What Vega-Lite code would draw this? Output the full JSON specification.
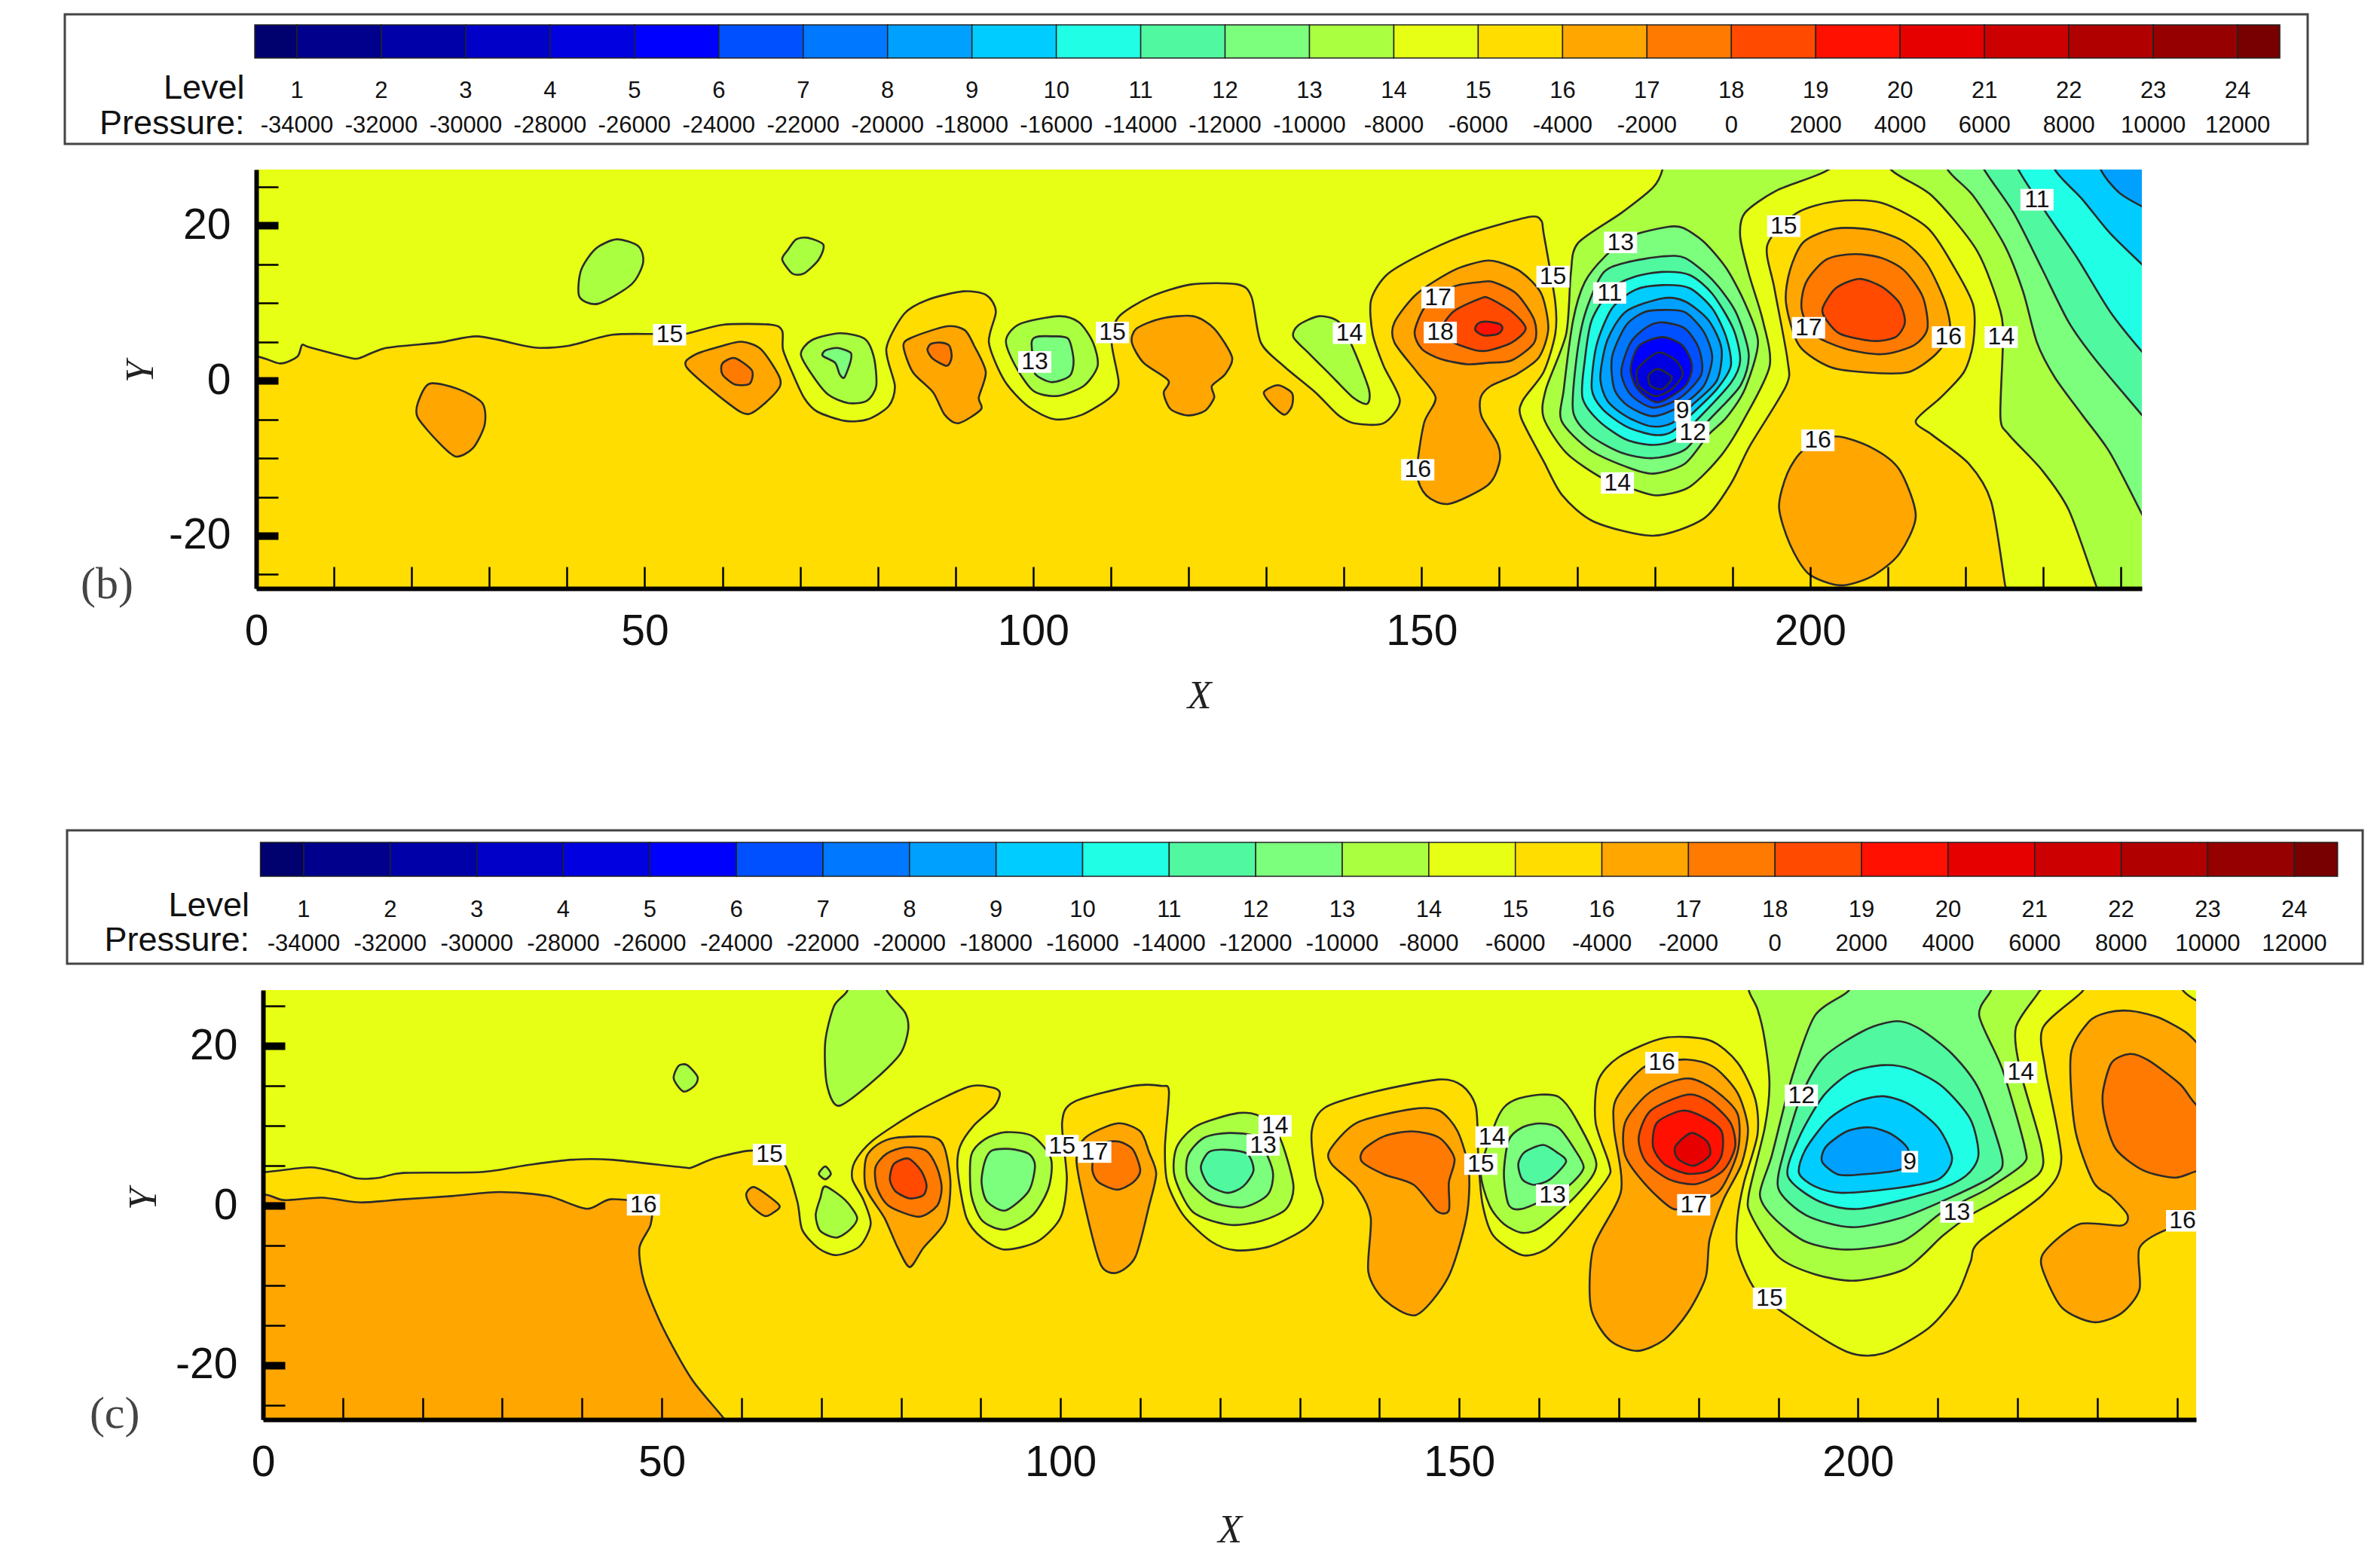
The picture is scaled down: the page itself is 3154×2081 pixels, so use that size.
{"$schema":"https://vega.github.io/schema/vega-lite/v6.json","padding":0,"spacing":0,"bounds":"flush","align":"none","background":"white","config":{"view":{"stroke":null},"range":{"ordinal":["#00006e","#00008c","#0000a8","#0000c8","#0000e0","#0000ff","#0050ff","#0078ff","#00a0ff","#00ccff","#20ffe6","#50f8a0","#7cff7c","#aaff40","#e6ff14","#ffdd00","#ffa600","#ff7a00","#ff4a00","#ff1000","#e60000","#cc0000","#b00000","#960000","#780000"]}},"datasets":{"one":[{"a":1}],
"bands":[{"band":0,"from":0.5,"to":1},{"band":1,"from":1,"to":2},{"band":2,"from":2,"to":3},{"band":3,"from":3,"to":4},{"band":4,"from":4,"to":5},{"band":5,"from":5,"to":6},{"band":6,"from":6,"to":7},{"band":7,"from":7,"to":8},{"band":8,"from":8,"to":9},{"band":9,"from":9,"to":10},{"band":10,"from":10,"to":11},{"band":11,"from":11,"to":12},{"band":12,"from":12,"to":13},{"band":13,"from":13,"to":14},{"band":14,"from":14,"to":15},{"band":15,"from":15,"to":16},{"band":16,"from":16,"to":17},{"band":17,"from":17,"to":18},{"band":18,"from":18,"to":19},{"band":19,"from":19,"to":20},{"band":20,"from":20,"to":21},{"band":21,"from":21,"to":22},{"band":22,"from":22,"to":23},{"band":23,"from":23,"to":24},{"band":24,"from":24,"to":24.5}],
"levels":[{"level":1,"pressure":"-34000"},{"level":2,"pressure":"-32000"},{"level":3,"pressure":"-30000"},{"level":4,"pressure":"-28000"},{"level":5,"pressure":"-26000"},{"level":6,"pressure":"-24000"},{"level":7,"pressure":"-22000"},{"level":8,"pressure":"-20000"},{"level":9,"pressure":"-18000"},{"level":10,"pressure":"-16000"},{"level":11,"pressure":"-14000"},{"level":12,"pressure":"-12000"},{"level":13,"pressure":"-10000"},{"level":14,"pressure":"-8000"},{"level":15,"pressure":"-6000"},{"level":16,"pressure":"-4000"},{"level":17,"pressure":"-2000"},{"level":18,"pressure":"0"},{"level":19,"pressure":"2000"},{"level":20,"pressure":"4000"},{"level":21,"pressure":"6000"},{"level":22,"pressure":"8000"},{"level":23,"pressure":"10000"},{"level":24,"pressure":"12000"}],
"bLabels":[{"x":53.2,"y":5.9,"t":"15"},{"x":100.2,"y":2.4,"t":"13"},{"x":110.2,"y":6.2,"t":"15"},{"x":140.7,"y":6.1,"t":"14"},{"x":152.1,"y":10.7,"t":"17"},{"x":152.4,"y":6.2,"t":"18"},{"x":149.5,"y":-11.5,"t":"16"},{"x":166.9,"y":13.4,"t":"15"},{"x":175.6,"y":17.8,"t":"13"},{"x":174.2,"y":11.3,"t":"11"},{"x":183.6,"y":-3.9,"t":"9"},{"x":184.9,"y":-6.65,"t":"12"},{"x":175.2,"y":-13.2,"t":"14"},{"x":196.6,"y":19.9,"t":"15"},{"x":199.8,"y":6.8,"t":"17"},{"x":217.8,"y":5.6,"t":"16"},{"x":224.6,"y":5.6,"t":"14"},{"x":201,"y":-7.7,"t":"16"},{"x":229.2,"y":23.3,"t":"11"}],
"cLabels":[{"x":47.7,"y":0.1,"t":"16"},{"x":63.5,"y":6.4,"t":"15"},{"x":100.2,"y":7.5,"t":"15"},{"x":104.3,"y":6.7,"t":"17"},{"x":126.9,"y":10,"t":"14"},{"x":125.4,"y":7.6,"t":"13"},{"x":154.1,"y":8.6,"t":"14"},{"x":152.7,"y":5.2,"t":"15"},{"x":161.7,"y":1.3,"t":"13"},{"x":175.4,"y":17.9,"t":"16"},{"x":179.4,"y":0.1,"t":"17"},{"x":192.9,"y":13.8,"t":"12"},{"x":206.5,"y":5.5,"t":"9"},{"x":220.4,"y":16.7,"t":"14"},{"x":212.4,"y":-0.8,"t":"13"},{"x":188.9,"y":-11.6,"t":"15"},{"x":240.7,"y":-1.9,"t":"16"}],
"bTag":[{"x":-19.2,"y":-26.3,"t":"(b)"}],"cTag":[{"x":-18.6,"y":-26.1,"t":"(c)"}],
"bPoly":[
{"p":"b1","f":15,"x":-6,"y":3},{"p":"b1","f":15,"x":0,"y":3.1},{"p":"b1","f":15,"x":3.1,"y":2.2},{"p":"b1","f":15,"x":5.3,"y":3.1},{"p":"b1","f":15,"x":5.9,"y":4.6},{"p":"b1","f":15,"x":6.8,"y":4.3},{"p":"b1","f":15,"x":11.8,"y":3},{"p":"b1","f":15,"x":13.3,"y":2.9},{"p":"b1","f":15,"x":16.7,"y":4.2},{"p":"b1","f":15,"x":23.5,"y":4.9},{"p":"b1","f":15,"x":28.5,"y":5.7},{"p":"b1","f":15,"x":34.4,"y":4.5},{"p":"b1","f":15,"x":36.5,"y":4.2},{"p":"b1","f":15,"x":40.3,"y":4.5},{"p":"b1","f":15,"x":45.8,"y":5.9},{"p":"b1","f":15,"x":51.4,"y":6},{"p":"b1","f":15,"x":55.1,"y":6},{"p":"b1","f":15,"x":60.1,"y":7.2},{"p":"b1","f":15,"x":66.3,"y":7.2},{"p":"b1","f":15,"x":67.7,"y":6.4},{"p":"b1","f":15,"x":67.8,"y":4},{"p":"b1","f":15,"x":69,"y":1},{"p":"b1","f":15,"x":70.5,"y":-2.2},{"p":"b1","f":15,"x":72.2,"y":-4},{"p":"b1","f":15,"x":75.8,"y":-5.2},{"p":"b1","f":15,"x":78.7,"y":-5},{"p":"b1","f":15,"x":81.4,"y":-3.3},{"p":"b1","f":15,"x":82.2,"y":-0.7},{"p":"b1","f":15,"x":81.1,"y":4.1},{"p":"b1","f":15,"x":83.4,"y":8.6},{"p":"b1","f":15,"x":86.4,"y":10.4},{"p":"b1","f":15,"x":91,"y":11.5},{"p":"b1","f":15,"x":94,"y":11},{"p":"b1","f":15,"x":95.2,"y":8.9},{"p":"b1","f":15,"x":94.3,"y":4.9},{"p":"b1","f":15,"x":96.3,"y":0},{"p":"b1","f":15,"x":99.3,"y":-3.3},{"p":"b1","f":15,"x":102.8,"y":-5},{"p":"b1","f":15,"x":106.3,"y":-4.4},{"p":"b1","f":15,"x":109.9,"y":-2.2},{"p":"b1","f":15,"x":111,"y":-0.3},{"p":"b1","f":15,"x":110.1,"y":4.9},{"p":"b1","f":15,"x":111,"y":8.2},{"p":"b1","f":15,"x":115.1,"y":10.8},{"p":"b1","f":15,"x":120.4,"y":12.4},{"p":"b1","f":15,"x":126.3,"y":12.4},{"p":"b1","f":15,"x":128.1,"y":10.8},{"p":"b1","f":15,"x":129.3,"y":4.9},{"p":"b1","f":15,"x":132.2,"y":1.9},{"p":"b1","f":15,"x":136.3,"y":-1.5},{"p":"b1","f":15,"x":139.2,"y":-4.4},{"p":"b1","f":15,"x":141.3,"y":-5.5},{"p":"b1","f":15,"x":145.1,"y":-5.5},{"p":"b1","f":15,"x":147.2,"y":-2.6},{"p":"b1","f":15,"x":145.1,"y":1.9},{"p":"b1","f":15,"x":143.7,"y":6},{"p":"b1","f":15,"x":143.5,"y":10.4},{"p":"b1","f":15,"x":145.7,"y":13.8},{"p":"b1","f":15,"x":151,"y":16.8},{"p":"b1","f":15,"x":156.3,"y":19},{"p":"b1","f":15,"x":163.9,"y":21.1},{"p":"b1","f":15,"x":165.4,"y":20.6},{"p":"b1","f":15,"x":165.7,"y":19},{"p":"b1","f":15,"x":167.2,"y":10.1},{"p":"b1","f":15,"x":167.2,"y":6},{"p":"b1","f":15,"x":165.7,"y":1.1},{"p":"b1","f":15,"x":163,"y":-2.6},{"p":"b1","f":15,"x":162.8,"y":-4.8},{"p":"b1","f":15,"x":165.7,"y":-10.4},{"p":"b1","f":15,"x":168.1,"y":-14.8},{"p":"b1","f":15,"x":172.2,"y":-18.2},{"p":"b1","f":15,"x":179.8,"y":-20},{"p":"b1","f":15,"x":186.3,"y":-17.8},{"p":"b1","f":15,"x":189.8,"y":-13.3},{"p":"b1","f":15,"x":192.2,"y":-8.5},{"p":"b1","f":15,"x":196.9,"y":-0.7},{"p":"b1","f":15,"x":197.1,"y":2.6},{"p":"b1","f":15,"x":195.4,"y":11.9},{"p":"b1","f":15,"x":194.5,"y":17.5},{"p":"b1","f":15,"x":198.3,"y":21.6},{"p":"b1","f":15,"x":203.3,"y":23.1},{"p":"b1","f":15,"x":209.2,"y":22.9},{"p":"b1","f":15,"x":215.1,"y":19.7},{"p":"b1","f":15,"x":218.6,"y":14.5},{"p":"b1","f":15,"x":221,"y":9.7},{"p":"b1","f":15,"x":221,"y":4.9},{"p":"b1","f":15,"x":219.8,"y":1.1},{"p":"b1","f":15,"x":216.8,"y":-2.2},{"p":"b1","f":15,"x":213.6,"y":-5.2},{"p":"b1","f":15,"x":215.7,"y":-7},{"p":"b1","f":15,"x":220.4,"y":-10.7},{"p":"b1","f":15,"x":223.3,"y":-15.6},{"p":"b1","f":15,"x":225.1,"y":-26.4},{"p":"b1","f":15,"x":226,"y":-32},{"p":"b1","f":15,"x":120,"y":-34},{"p":"b1","f":15,"x":-6,"y":-32},
{"p":"b2","f":13,"x":181.6,"y":31.6},{"p":"b2","f":13,"x":181,"y":27.2},{"p":"b2","f":13,"x":179.8,"y":24.9},{"p":"b2","f":13,"x":175.7,"y":21.6},{"p":"b2","f":13,"x":170.1,"y":17.7},{"p":"b2","f":13,"x":169.2,"y":13.8},{"p":"b2","f":13,"x":168.6,"y":6},{"p":"b2","f":13,"x":166,"y":-1.1},{"p":"b2","f":13,"x":165.7,"y":-4.8},{"p":"b2","f":13,"x":168.6,"y":-9.3},{"p":"b2","f":13,"x":173.3,"y":-12.6},{"p":"b2","f":13,"x":177.5,"y":-14.1},{"p":"b2","f":13,"x":180.4,"y":-14.8},{"p":"b2","f":13,"x":184.5,"y":-13.7},{"p":"b2","f":13,"x":188.6,"y":-9.6},{"p":"b2","f":13,"x":191.6,"y":-4.8},{"p":"b2","f":13,"x":194.8,"y":1.9},{"p":"b2","f":13,"x":193.9,"y":7.8},{"p":"b2","f":13,"x":192.1,"y":13.8},{"p":"b2","f":13,"x":191,"y":18.6},{"p":"b2","f":13,"x":191.6,"y":21.6},{"p":"b2","f":13,"x":195.7,"y":24.5},{"p":"b2","f":13,"x":202.4,"y":27.2},{"p":"b2","f":13,"x":205.1,"y":30.9},
{"p":"b3","f":13,"x":210.4,"y":27.2},{"p":"b3","f":13,"x":215.7,"y":23.8},{"p":"b3","f":13,"x":221.5,"y":16.7},{"p":"b3","f":13,"x":224.5,"y":8.9},{"p":"b3","f":13,"x":224.8,"y":4.5},{"p":"b3","f":13,"x":224.5,"y":-4.8},{"p":"b3","f":13,"x":225.6,"y":-7},{"p":"b3","f":13,"x":229.8,"y":-11.5},{"p":"b3","f":13,"x":233.3,"y":-16.7},{"p":"b3","f":13,"x":236.8,"y":-26.4},{"p":"b3","f":13,"x":238.6,"y":-31},{"p":"b3","f":13,"x":252,"y":-31},{"p":"b3","f":13,"x":252,"y":32},{"p":"b3","f":13,"x":208,"y":32},
{"p":"b4","f":12,"x":217.7,"y":27.2},{"p":"b4","f":12,"x":221,"y":23.8},{"p":"b4","f":12,"x":225,"y":17.5},{"p":"b4","f":12,"x":227.4,"y":11.5},{"p":"b4","f":12,"x":229.2,"y":4.9},{"p":"b4","f":12,"x":231.5,"y":0.4},{"p":"b4","f":12,"x":235,"y":-4.4},{"p":"b4","f":12,"x":238.6,"y":-9.3},{"p":"b4","f":12,"x":243,"y":-17.8},{"p":"b4","f":12,"x":246,"y":-24},{"p":"b4","f":12,"x":255,"y":-20},{"p":"b4","f":12,"x":255,"y":32},{"p":"b4","f":12,"x":216,"y":32},
{"p":"b5","f":11,"x":222.4,"y":27.2},{"p":"b5","f":11,"x":226.2,"y":21.6},{"p":"b5","f":11,"x":229.8,"y":14.5},{"p":"b5","f":11,"x":233.3,"y":7.5},{"p":"b5","f":11,"x":236.8,"y":2.6},{"p":"b5","f":11,"x":243,"y":-4.8},{"p":"b5","f":11,"x":249,"y":-12},{"p":"b5","f":11,"x":256,"y":-8},{"p":"b5","f":11,"x":256,"y":32},{"p":"b5","f":11,"x":220,"y":32},
{"p":"b6","f":10,"x":226.8,"y":27.2},{"p":"b6","f":10,"x":230.4,"y":21.6},{"p":"b6","f":10,"x":234.5,"y":15.6},{"p":"b6","f":10,"x":238.6,"y":8.9},{"p":"b6","f":10,"x":243,"y":3.4},{"p":"b6","f":10,"x":248,"y":-2},{"p":"b6","f":10,"x":256,"y":2},{"p":"b6","f":10,"x":256,"y":32},{"p":"b6","f":10,"x":225,"y":32},
{"p":"b7","f":9,"x":231.5,"y":27.2},{"p":"b7","f":9,"x":235,"y":23.4},{"p":"b7","f":9,"x":238.6,"y":19},{"p":"b7","f":9,"x":243,"y":14.7},{"p":"b7","f":9,"x":248,"y":10},{"p":"b7","f":9,"x":256,"y":12},{"p":"b7","f":9,"x":256,"y":32},{"p":"b7","f":9,"x":230,"y":32},
{"p":"b8","f":8,"x":237.4,"y":27.2},{"p":"b8","f":8,"x":239.8,"y":24.2},{"p":"b8","f":8,"x":243,"y":22.3},{"p":"b8","f":8,"x":248,"y":20},{"p":"b8","f":8,"x":256,"y":22},{"p":"b8","f":8,"x":256,"y":32},{"p":"b8","f":8,"x":236,"y":32},
{"p":"c13","f":12,"x":176.9,"y":18.6},{"p":"c13","f":12,"x":181.6,"y":19.8},{"p":"c13","f":12,"x":183.6,"y":19.7},{"p":"c13","f":12,"x":186.3,"y":17.9},{"p":"c13","f":12,"x":189.2,"y":14.5},{"p":"c13","f":12,"x":191.6,"y":10},{"p":"c13","f":12,"x":193.3,"y":4.9},{"p":"c13","f":12,"x":191.6,"y":-1.1},{"p":"c13","f":12,"x":189.2,"y":-4.8},{"p":"c13","f":12,"x":186.9,"y":-7},{"p":"c13","f":12,"x":183.9,"y":-10.7},{"p":"c13","f":12,"x":179.8,"y":-12},{"p":"c13","f":12,"x":176.3,"y":-11.1},{"p":"c13","f":12,"x":171.6,"y":-8.9},{"p":"c13","f":12,"x":168,"y":-5.2},{"p":"c13","f":12,"x":168.3,"y":-1.1},{"p":"c13","f":12,"x":169.5,"y":7.8},{"p":"c13","f":12,"x":171,"y":12.7},{"p":"c13","f":12,"x":173.6,"y":16},
{"p":"c12","f":11,"x":181,"y":16},{"p":"c12","f":11,"x":183.9,"y":15.8},{"p":"c12","f":11,"x":187.4,"y":13},{"p":"c12","f":11,"x":190.4,"y":8.9},{"p":"c12","f":11,"x":192.1,"y":3.4},{"p":"c12","f":11,"x":191,"y":-0.7},{"p":"c12","f":11,"x":186.9,"y":-5.2},{"p":"c12","f":11,"x":183.9,"y":-8.9},{"p":"c12","f":11,"x":179.8,"y":-10},{"p":"c12","f":11,"x":175.7,"y":-9.3},{"p":"c12","f":11,"x":171.6,"y":-7},{"p":"c12","f":11,"x":169.5,"y":-4},{"p":"c12","f":11,"x":169.9,"y":2.6},{"p":"c12","f":11,"x":171,"y":8.5},{"p":"c12","f":11,"x":173.3,"y":13.8},{"p":"c12","f":11,"x":176.3,"y":15.2},
{"p":"c11","f":10,"x":181,"y":14},{"p":"c11","f":10,"x":184.5,"y":13.6},{"p":"c11","f":10,"x":187.4,"y":11.2},{"p":"c11","f":10,"x":190.1,"y":6.7},{"p":"c11","f":10,"x":191,"y":2.6},{"p":"c11","f":10,"x":189.8,"y":-0.3},{"p":"c11","f":10,"x":185.7,"y":-4.8},{"p":"c11","f":10,"x":182.7,"y":-7.6},{"p":"c11","f":10,"x":179.8,"y":-8.3},{"p":"c11","f":10,"x":176.3,"y":-7.6},{"p":"c11","f":10,"x":172.8,"y":-5.2},{"p":"c11","f":10,"x":170.7,"y":-2.2},{"p":"c11","f":10,"x":171,"y":2.6},{"p":"c11","f":10,"x":171.9,"y":7.8},{"p":"c11","f":10,"x":174.5,"y":11.9},{"p":"c11","f":10,"x":177.5,"y":13.4},
{"p":"c10","f":9,"x":181,"y":12.3},{"p":"c10","f":9,"x":184.5,"y":11.9},{"p":"c10","f":9,"x":187.4,"y":9.3},{"p":"c10","f":9,"x":189.2,"y":5.6},{"p":"c10","f":9,"x":189.8,"y":1.9},{"p":"c10","f":9,"x":188,"y":-1.1},{"p":"c10","f":9,"x":185.1,"y":-4},{"p":"c10","f":9,"x":182.2,"y":-6.6},{"p":"c10","f":9,"x":179.8,"y":-7},{"p":"c10","f":9,"x":176.3,"y":-5.9},{"p":"c10","f":9,"x":173.3,"y":-3.7},{"p":"c10","f":9,"x":171.9,"y":-1.1},{"p":"c10","f":9,"x":172.5,"y":4.5},{"p":"c10","f":9,"x":174.5,"y":9.3},{"p":"c10","f":9,"x":177.5,"y":11.7},
{"p":"c9","f":8,"x":181,"y":10.6},{"p":"c9","f":8,"x":183.9,"y":10.2},{"p":"c9","f":8,"x":186.9,"y":7.8},{"p":"c9","f":8,"x":188.6,"y":4.1},{"p":"c9","f":8,"x":188,"y":0},{"p":"c9","f":8,"x":185.1,"y":-2.9},{"p":"c9","f":8,"x":182.2,"y":-5.5},{"p":"c9","f":8,"x":179.5,"y":-5.9},{"p":"c9","f":8,"x":176.3,"y":-4.6},{"p":"c9","f":8,"x":173.9,"y":-2.6},{"p":"c9","f":8,"x":173,"y":0.4},{"p":"c9","f":8,"x":173.9,"y":5.2},{"p":"c9","f":8,"x":176.3,"y":8.9},
{"p":"c8","f":7,"x":181,"y":9.1},{"p":"c8","f":7,"x":183.9,"y":8.8},{"p":"c8","f":7,"x":186.3,"y":6.3},{"p":"c8","f":7,"x":187.4,"y":3},{"p":"c8","f":7,"x":186.3,"y":-0.7},{"p":"c8","f":7,"x":183.3,"y":-3.3},{"p":"c8","f":7,"x":179.8,"y":-4.6},{"p":"c8","f":7,"x":176.6,"y":-3.3},{"p":"c8","f":7,"x":174.8,"y":-1.1},{"p":"c8","f":7,"x":174.5,"y":3},{"p":"c8","f":7,"x":176.3,"y":7.1},{"p":"c8","f":7,"x":178.6,"y":8.8},
{"p":"c7","f":6,"x":181,"y":7.5},{"p":"c7","f":6,"x":183.9,"y":6.7},{"p":"c7","f":6,"x":185.7,"y":4.1},{"p":"c7","f":6,"x":186,"y":0.8},{"p":"c7","f":6,"x":183.3,"y":-2.2},{"p":"c7","f":6,"x":179.8,"y":-3.5},{"p":"c7","f":6,"x":176.9,"y":-1.8},{"p":"c7","f":6,"x":175.7,"y":1.1},{"p":"c7","f":6,"x":176.9,"y":4.9},{"p":"c7","f":6,"x":179,"y":6.9},
{"p":"c6","f":5,"x":181,"y":5.6},{"p":"c6","f":5,"x":183.6,"y":4.5},{"p":"c6","f":5,"x":184.8,"y":1.9},{"p":"c6","f":5,"x":183.9,"y":-0.7},{"p":"c6","f":5,"x":180.4,"y":-2.8},{"p":"c6","f":5,"x":177.8,"y":-1.1},{"p":"c6","f":5,"x":176.9,"y":1.5},{"p":"c6","f":5,"x":178,"y":4.5},
{"p":"c5","f":4,"x":180.4,"y":3.6},{"p":"c5","f":4,"x":182.7,"y":2.6},{"p":"c5","f":4,"x":183.6,"y":0.8},{"p":"c5","f":4,"x":182.2,"y":-1.1},{"p":"c5","f":4,"x":180.1,"y":-2},{"p":"c5","f":4,"x":178,"y":-0.7},{"p":"c5","f":4,"x":177.8,"y":1.5},
{"p":"c4","f":3,"x":180.4,"y":1.5},{"p":"c4","f":3,"x":182.2,"y":0.4},{"p":"c4","f":3,"x":181,"y":-1.1},{"p":"c4","f":3,"x":179.5,"y":-0.7},{"p":"c4","f":3,"x":179.2,"y":0.6},
{"p":"d16","f":16,"x":154.1,"y":14.2},{"p":"d16","f":16,"x":157.9,"y":15.4},{"p":"d16","f":16,"x":159.8,"y":15.3},{"p":"d16","f":16,"x":162.8,"y":14},{"p":"d16","f":16,"x":165.4,"y":11.2},{"p":"d16","f":16,"x":166.3,"y":6.7},{"p":"d16","f":16,"x":165.1,"y":3},{"p":"d16","f":16,"x":162.2,"y":0.8},{"p":"d16","f":16,"x":158.9,"y":-0.7},{"p":"d16","f":16,"x":157.6,"y":-2.2},{"p":"d16","f":16,"x":157.7,"y":-4.6},{"p":"d16","f":16,"x":159.8,"y":-8.2},{"p":"d16","f":16,"x":160,"y":-10.6},{"p":"d16","f":16,"x":158.5,"y":-13.5},{"p":"d16","f":16,"x":153.5,"y":-15.9},{"p":"d16","f":16,"x":150.6,"y":-14.8},{"p":"d16","f":16,"x":149.4,"y":-11.9},{"p":"d16","f":16,"x":150.3,"y":-5.5},{"p":"d16","f":16,"x":151.8,"y":-2.2},{"p":"d16","f":16,"x":149.4,"y":1.1},{"p":"d16","f":16,"x":146.5,"y":4.9},{"p":"d16","f":16,"x":146.5,"y":7.5},{"p":"d16","f":16,"x":149.4,"y":11.2},
{"p":"d17","f":17,"x":157.6,"y":12.7},{"p":"d17","f":17,"x":159.2,"y":12.7},{"p":"d17","f":17,"x":162.2,"y":11.2},{"p":"d17","f":17,"x":164.5,"y":7.8},{"p":"d17","f":17,"x":164.5,"y":4.9},{"p":"d17","f":17,"x":161.6,"y":2.6},{"p":"d17","f":17,"x":158.7,"y":2.3},{"p":"d17","f":17,"x":155.9,"y":2.1},{"p":"d17","f":17,"x":152.4,"y":2.8},{"p":"d17","f":17,"x":150,"y":4.1},{"p":"d17","f":17,"x":149.1,"y":6.3},{"p":"d17","f":17,"x":150.6,"y":9.7},{"p":"d17","f":17,"x":154.1,"y":12.1},
{"p":"d18","f":18,"x":157.6,"y":10.6},{"p":"d18","f":18,"x":158.7,"y":10.6},{"p":"d18","f":18,"x":161.6,"y":8.9},{"p":"d18","f":18,"x":163.4,"y":6.7},{"p":"d18","f":18,"x":161.6,"y":4.9},{"p":"d18","f":18,"x":158.7,"y":3.9},{"p":"d18","f":18,"x":157,"y":3.9},{"p":"d18","f":18,"x":154.1,"y":4.9},{"p":"d18","f":18,"x":152.4,"y":6.3},{"p":"d18","f":18,"x":154.1,"y":8.9},
{"p":"d19","f":19,"x":158.2,"y":7.6},{"p":"d19","f":19,"x":160,"y":7.3},{"p":"d19","f":19,"x":160.4,"y":6.7},{"p":"d19","f":19,"x":159.8,"y":6},{"p":"d19","f":19,"x":158,"y":5.8},{"p":"d19","f":19,"x":156.9,"y":6.5},{"p":"d19","f":19,"x":157.2,"y":7.3},
{"p":"e1","f":13,"x":136.8,"y":8.3},{"p":"e1","f":13,"x":139.4,"y":7.5},{"p":"e1","f":13,"x":141.2,"y":4.1},{"p":"e1","f":13,"x":143.2,"y":-1.1},{"p":"e1","f":13,"x":143,"y":-3},{"p":"e1","f":13,"x":141.2,"y":-2.2},{"p":"e1","f":13,"x":138.2,"y":0.8},{"p":"e1","f":13,"x":135.6,"y":3.4},{"p":"e1","f":13,"x":133.5,"y":5.6},{"p":"e1","f":13,"x":134.1,"y":7.1},
{"p":"e2","f":16,"x":131.5,"y":-0.6},{"p":"e2","f":16,"x":133.3,"y":-1.6},{"p":"e2","f":16,"x":133.3,"y":-3.3},{"p":"e2","f":16,"x":132.3,"y":-4.4},{"p":"e2","f":16,"x":130.6,"y":-3},{"p":"e2","f":16,"x":129.7,"y":-1.5},
{"p":"e3","f":16,"x":116.5,"y":8},{"p":"e3","f":16,"x":120.6,"y":8.3},{"p":"e3","f":16,"x":123.3,"y":6.7},{"p":"e3","f":16,"x":125.6,"y":3},{"p":"e3","f":16,"x":124.7,"y":0.8},{"p":"e3","f":16,"x":123,"y":-0.7},{"p":"e3","f":16,"x":123.3,"y":-2.2},{"p":"e3","f":16,"x":122.1,"y":-3.9},{"p":"e3","f":16,"x":120,"y":-4.5},{"p":"e3","f":16,"x":117.7,"y":-3.7},{"p":"e3","f":16,"x":116.8,"y":-1.6},{"p":"e3","f":16,"x":117.4,"y":0},{"p":"e3","f":16,"x":114.2,"y":2.3},{"p":"e3","f":16,"x":112.7,"y":4.9},{"p":"e3","f":16,"x":113.3,"y":6.7},
{"p":"e4","f":13,"x":75.1,"y":6.1},{"p":"e4","f":13,"x":78.3,"y":5.4},{"p":"e4","f":13,"x":79.5,"y":3},{"p":"e4","f":13,"x":79.8,"y":-0.7},{"p":"e4","f":13,"x":78.6,"y":-2.6},{"p":"e4","f":13,"x":76.2,"y":-2.9},{"p":"e4","f":13,"x":73.6,"y":-1.8},{"p":"e4","f":13,"x":71.5,"y":0.8},{"p":"e4","f":13,"x":70.1,"y":3.4},{"p":"e4","f":13,"x":71.5,"y":5.2},
{"p":"e5","f":12,"x":74.8,"y":4.2},{"p":"e5","f":12,"x":76.5,"y":3.6},{"p":"e5","f":12,"x":76.5,"y":2.5},{"p":"e5","f":12,"x":75.7,"y":0.4},{"p":"e5","f":12,"x":75.1,"y":0.8},{"p":"e5","f":12,"x":74.5,"y":2.3},{"p":"e5","f":12,"x":72.9,"y":3.2},{"p":"e5","f":12,"x":73.3,"y":3.9},
{"p":"e6","f":16,"x":88.9,"y":7},{"p":"e6","f":16,"x":91.2,"y":6.5},{"p":"e6","f":16,"x":92.4,"y":4.5},{"p":"e6","f":16,"x":93.9,"y":1.1},{"p":"e6","f":16,"x":93,"y":-2.2},{"p":"e6","f":16,"x":93.3,"y":-3.7},{"p":"e6","f":16,"x":90.4,"y":-5.5},{"p":"e6","f":16,"x":88.6,"y":-4.4},{"p":"e6","f":16,"x":87.1,"y":-1.5},{"p":"e6","f":16,"x":84.5,"y":1.1},{"p":"e6","f":16,"x":83.3,"y":4.5},{"p":"e6","f":16,"x":84.5,"y":5.6},
{"p":"e7","f":17,"x":88,"y":4.9},{"p":"e7","f":17,"x":89.2,"y":4.5},{"p":"e7","f":17,"x":89.5,"y":3},{"p":"e7","f":17,"x":88.9,"y":1.9},{"p":"e7","f":17,"x":87.1,"y":2.8},{"p":"e7","f":17,"x":86.4,"y":3.9},{"p":"e7","f":17,"x":86.8,"y":4.7},
{"p":"e8","f":13,"x":103.3,"y":8.3},{"p":"e8","f":13,"x":105.9,"y":7.5},{"p":"e8","f":13,"x":107.7,"y":4.9},{"p":"e8","f":13,"x":108.3,"y":1.9},{"p":"e8","f":13,"x":106.5,"y":-0.7},{"p":"e8","f":13,"x":103,"y":-2},{"p":"e8","f":13,"x":100,"y":-1.3},{"p":"e8","f":13,"x":97.7,"y":1.9},{"p":"e8","f":13,"x":96.5,"y":5.2},{"p":"e8","f":13,"x":98.3,"y":7.3},
{"p":"e9","f":12,"x":102.4,"y":5.7},{"p":"e9","f":12,"x":104.5,"y":5.4},{"p":"e9","f":12,"x":105.2,"y":2.6},{"p":"e9","f":12,"x":104.7,"y":0.6},{"p":"e9","f":12,"x":102.4,"y":-0.2},{"p":"e9","f":12,"x":100.3,"y":0.8},{"p":"e9","f":12,"x":100,"y":2.6},{"p":"e9","f":12,"x":99.8,"y":4.9},{"p":"e9","f":12,"x":100.3,"y":5.6},
{"p":"e10","f":13,"x":71,"y":18.4},{"p":"e10","f":13,"x":73,"y":17.5},{"p":"e10","f":13,"x":72.4,"y":15.6},{"p":"e10","f":13,"x":70.5,"y":13.8},{"p":"e10","f":13,"x":69,"y":13.8},{"p":"e10","f":13,"x":67.7,"y":15.6},{"p":"e10","f":13,"x":68.4,"y":16.8},{"p":"e10","f":13,"x":69.5,"y":18.2},
{"p":"e11","f":13,"x":46.4,"y":18.2},{"p":"e11","f":13,"x":49.2,"y":17.3},{"p":"e11","f":13,"x":49.8,"y":15.2},{"p":"e11","f":13,"x":48.3,"y":12.4},{"p":"e11","f":13,"x":44,"y":9.9},{"p":"e11","f":13,"x":41.6,"y":10.8},{"p":"e11","f":13,"x":41.8,"y":14.2},{"p":"e11","f":13,"x":43.7,"y":17},
{"p":"e12","f":16,"x":22.3,"y":-0.4},{"p":"e12","f":16,"x":26,"y":-1.1},{"p":"e12","f":16,"x":29.1,"y":-2.9},{"p":"e12","f":16,"x":29.4,"y":-5.7},{"p":"e12","f":16,"x":27.9,"y":-8.7},{"p":"e12","f":16,"x":25.7,"y":-9.8},{"p":"e12","f":16,"x":23.5,"y":-8},{"p":"e12","f":16,"x":20.8,"y":-4.8},{"p":"e12","f":16,"x":20.8,"y":-2.9},
{"p":"e13","f":16,"x":62.5,"y":5},{"p":"e13","f":16,"x":65,"y":4},{"p":"e13","f":16,"x":67.4,"y":0.3},{"p":"e13","f":16,"x":66.9,"y":-1.5},{"p":"e13","f":16,"x":63.5,"y":-4.3},{"p":"e13","f":16,"x":60.7,"y":-2.9},{"p":"e13","f":16,"x":55.4,"y":1.7},{"p":"e13","f":16,"x":56.4,"y":3.3},{"p":"e13","f":16,"x":60.1,"y":4.5},
{"p":"e14","f":17,"x":61.6,"y":2.9},{"p":"e14","f":17,"x":63.8,"y":1.3},{"p":"e14","f":17,"x":63.5,"y":-0.4},{"p":"e14","f":17,"x":61.6,"y":-0.5},{"p":"e14","f":17,"x":60,"y":0.8},{"p":"e14","f":17,"x":60,"y":2.2},
{"p":"g16","f":16,"x":203.3,"y":19.6},{"p":"g16","f":16,"x":208,"y":19.4},{"p":"g16","f":16,"x":212.1,"y":17.9},{"p":"g16","f":16,"x":215.1,"y":14.9},{"p":"g16","f":16,"x":217.4,"y":10},{"p":"g16","f":16,"x":218,"y":6.3},{"p":"g16","f":16,"x":216.2,"y":3.4},{"p":"g16","f":16,"x":212.7,"y":1.1},{"p":"g16","f":16,"x":208,"y":1},{"p":"g16","f":16,"x":202.7,"y":1.7},{"p":"g16","f":16,"x":198.6,"y":4.5},{"p":"g16","f":16,"x":196.9,"y":10},{"p":"g16","f":16,"x":197.4,"y":14.2},{"p":"g16","f":16,"x":199.2,"y":17.9},
{"p":"g17","f":17,"x":205.7,"y":16.3},{"p":"g17","f":17,"x":209.2,"y":15.8},{"p":"g17","f":17,"x":212.1,"y":14.2},{"p":"g17","f":17,"x":214.5,"y":10.8},{"p":"g17","f":17,"x":215.1,"y":6.7},{"p":"g17","f":17,"x":213.3,"y":4.5},{"p":"g17","f":17,"x":209.2,"y":3.4},{"p":"g17","f":17,"x":204.5,"y":4.1},{"p":"g17","f":17,"x":200.4,"y":6},{"p":"g17","f":17,"x":198.9,"y":9.3},{"p":"g17","f":17,"x":199.5,"y":12.7},{"p":"g17","f":17,"x":202.1,"y":15.6},
{"p":"g18","f":18,"x":206.3,"y":13.1},{"p":"g18","f":18,"x":209.2,"y":12.1},{"p":"g18","f":18,"x":211.5,"y":10},{"p":"g18","f":18,"x":212.2,"y":7.5},{"p":"g18","f":18,"x":211,"y":5.6},{"p":"g18","f":18,"x":208,"y":5.1},{"p":"g18","f":18,"x":203.9,"y":6},{"p":"g18","f":18,"x":202.1,"y":7.8},{"p":"g18","f":18,"x":201.6,"y":9.3},{"p":"g18","f":18,"x":203.3,"y":11.9},
{"p":"h16","f":16,"x":203.3,"y":-7.2},{"p":"h16","f":16,"x":208,"y":-8.7},{"p":"h16","f":16,"x":211.5,"y":-11.5},{"p":"h16","f":16,"x":213.6,"y":-17.4},{"p":"h16","f":16,"x":211.5,"y":-22.3},{"p":"h16","f":16,"x":208,"y":-25.2},{"p":"h16","f":16,"x":203.9,"y":-26.4},{"p":"h16","f":16,"x":199.8,"y":-24.9},{"p":"h16","f":16,"x":197.4,"y":-21.1},{"p":"h16","f":16,"x":196,"y":-16.3},{"p":"h16","f":16,"x":197.1,"y":-11.9},{"p":"h16","f":16,"x":199.2,"y":-8.9}
],
"cPoly":[
{"p":"a1","f":15,"x":-6,"y":4},{"p":"a1","f":15,"x":0.15,"y":4.2},{"p":"a1","f":15,"x":5.9,"y":4.8},{"p":"a1","f":15,"x":9.2,"y":4.2},{"p":"a1","f":15,"x":11.9,"y":3.4},{"p":"a1","f":15,"x":14.6,"y":3.5},{"p":"a1","f":15,"x":17.6,"y":4.1},{"p":"a1","f":15,"x":27.3,"y":4.2},{"p":"a1","f":15,"x":33.3,"y":5.1},{"p":"a1","f":15,"x":38.7,"y":5.75},{"p":"a1","f":15,"x":43.6,"y":5.75},{"p":"a1","f":15,"x":52.6,"y":4.8},{"p":"a1","f":15,"x":53.8,"y":4.8},{"p":"a1","f":15,"x":56.8,"y":6},{"p":"a1","f":15,"x":61.7,"y":6.9},{"p":"a1","f":15,"x":65.3,"y":5.3},{"p":"a1","f":15,"x":67,"y":0.5},{"p":"a1","f":15,"x":67.6,"y":-3},{"p":"a1","f":15,"x":69.6,"y":-5.3},{"p":"a1","f":15,"x":71.9,"y":-6.2},{"p":"a1","f":15,"x":74.8,"y":-5.1},{"p":"a1","f":15,"x":76.2,"y":-2.3},{"p":"a1","f":15,"x":75.3,"y":0.7},{"p":"a1","f":15,"x":73.9,"y":3.3},{"p":"a1","f":15,"x":74.2,"y":5.5},{"p":"a1","f":15,"x":76.5,"y":8.2},{"p":"a1","f":15,"x":82.2,"y":11.9},{"p":"a1","f":15,"x":88.5,"y":14.9},{"p":"a1","f":15,"x":91.4,"y":14.8},{"p":"a1","f":15,"x":92.4,"y":14.1},{"p":"a1","f":15,"x":91.7,"y":12.4},{"p":"a1","f":15,"x":89.1,"y":10},{"p":"a1","f":15,"x":87.4,"y":7.4},{"p":"a1","f":15,"x":87.1,"y":4.4},{"p":"a1","f":15,"x":88.2,"y":-1.5},{"p":"a1","f":15,"x":90.2,"y":-4.1},{"p":"a1","f":15,"x":93,"y":-5.5},{"p":"a1","f":15,"x":97.1,"y":-4.5},{"p":"a1","f":15,"x":100,"y":-1.5},{"p":"a1","f":15,"x":100.8,"y":3.3},{"p":"a1","f":15,"x":100.2,"y":10.4},{"p":"a1","f":15,"x":101.7,"y":13},{"p":"a1","f":15,"x":109.1,"y":15},{"p":"a1","f":15,"x":112.6,"y":15},{"p":"a1","f":15,"x":113.6,"y":14.3},{"p":"a1","f":15,"x":113.1,"y":7.4},{"p":"a1","f":15,"x":113.4,"y":2.9},{"p":"a1","f":15,"x":115.4,"y":-1.2},{"p":"a1","f":15,"x":118.9,"y":-4.5},{"p":"a1","f":15,"x":122,"y":-5.6},{"p":"a1","f":15,"x":126.3,"y":-5.1},{"p":"a1","f":15,"x":130.9,"y":-2.7},{"p":"a1","f":15,"x":132.9,"y":0.3},{"p":"a1","f":15,"x":132,"y":3.7},{"p":"a1","f":15,"x":131.5,"y":9.3},{"p":"a1","f":15,"x":133.2,"y":12.3},{"p":"a1","f":15,"x":139.5,"y":14.3},{"p":"a1","f":15,"x":147.5,"y":15.8},{"p":"a1","f":15,"x":150.4,"y":15},{"p":"a1","f":15,"x":152.1,"y":12.3},{"p":"a1","f":15,"x":152.4,"y":5.9},{"p":"a1","f":15,"x":152.9,"y":0.3},{"p":"a1","f":15,"x":154.3,"y":-3.8},{"p":"a1","f":15,"x":157.9,"y":-6.2},{"p":"a1","f":15,"x":160.8,"y":-5.5},{"p":"a1","f":15,"x":163.7,"y":-2.7},{"p":"a1","f":15,"x":168.5,"y":3.3},{"p":"a1","f":15,"x":168.8,"y":5.2},{"p":"a1","f":15,"x":167.1,"y":10.4},{"p":"a1","f":15,"x":167.4,"y":15.6},{"p":"a1","f":15,"x":170,"y":18.6},{"p":"a1","f":15,"x":175.7,"y":21},{"p":"a1","f":15,"x":181.4,"y":20.7},{"p":"a1","f":15,"x":184.9,"y":17.9},{"p":"a1","f":15,"x":187.1,"y":13.4},{"p":"a1","f":15,"x":187.4,"y":8.9},{"p":"a1","f":15,"x":185.7,"y":2.9},{"p":"a1","f":15,"x":184.9,"y":-1.5},{"p":"a1","f":15,"x":184.9,"y":-5.6},{"p":"a1","f":15,"x":187.1,"y":-10.5},{"p":"a1","f":15,"x":191.2,"y":-13.8},{"p":"a1","f":15,"x":198.6,"y":-18.3},{"p":"a1","f":15,"x":203.2,"y":-18.5},{"p":"a1","f":15,"x":208.9,"y":-15.3},{"p":"a1","f":15,"x":212.4,"y":-11.2},{"p":"a1","f":15,"x":214.1,"y":-7.1},{"p":"a1","f":15,"x":215.2,"y":-4.5},{"p":"a1","f":15,"x":223.2,"y":1.4},{"p":"a1","f":15,"x":225.5,"y":5.9},{"p":"a1","f":15,"x":223.5,"y":17.1},{"p":"a1","f":15,"x":223.2,"y":22.3},{"p":"a1","f":15,"x":228.1,"y":26.8},{"p":"a1","f":15,"x":230.1,"y":30},{"p":"a1","f":15,"x":239,"y":30},{"p":"a1","f":15,"x":240.7,"y":27},{"p":"a1","f":15,"x":242.8,"y":25.5},{"p":"a1","f":15,"x":249,"y":23},{"p":"a1","f":15,"x":252,"y":-32},{"p":"a1","f":15,"x":120,"y":-34},{"p":"a1","f":15,"x":-6,"y":-32},
{"p":"a2","f":16,"x":0.15,"y":1.4},{"p":"a2","f":16,"x":2.6,"y":0.7},{"p":"a2","f":16,"x":7.4,"y":1},{"p":"a2","f":16,"x":12.2,"y":0.4},{"p":"a2","f":16,"x":17.6,"y":0.8},{"p":"a2","f":16,"x":23.7,"y":1.2},{"p":"a2","f":16,"x":29.7,"y":1.7},{"p":"a2","f":16,"x":35.7,"y":1.2},{"p":"a2","f":16,"x":40.6,"y":-0.4},{"p":"a2","f":16,"x":43.6,"y":0.8},{"p":"a2","f":16,"x":48.4,"y":0.1},{"p":"a2","f":16,"x":48.6,"y":-2.4},{"p":"a2","f":16,"x":47.2,"y":-5.3},{"p":"a2","f":16,"x":47.8,"y":-9.6},{"p":"a2","f":16,"x":50.2,"y":-15.4},{"p":"a2","f":16,"x":53.8,"y":-21.8},{"p":"a2","f":16,"x":57.9,"y":-26.8},{"p":"a2","f":16,"x":60,"y":-30},{"p":"a2","f":16,"x":-6,"y":-31},{"p":"a2","f":16,"x":-6,"y":1.4},
{"p":"a3","f":13,"x":53.2,"y":17.6},{"p":"a3","f":13,"x":54.5,"y":16.1},{"p":"a3","f":13,"x":54.1,"y":15},{"p":"a3","f":13,"x":52.7,"y":14.3},{"p":"a3","f":13,"x":51.5,"y":15.9},{"p":"a3","f":13,"x":52.1,"y":17.5},
{"p":"a4","f":16,"x":61.7,"y":2.3},{"p":"a4","f":16,"x":64.7,"y":0.1},{"p":"a4","f":16,"x":64.1,"y":-0.8},{"p":"a4","f":16,"x":62.9,"y":-1.3},{"p":"a4","f":16,"x":61.1,"y":0.1},{"p":"a4","f":16,"x":60.6,"y":1.5},
{"p":"a5","f":13,"x":73.3,"y":30},{"p":"a5","f":13,"x":78.2,"y":30},{"p":"a5","f":13,"x":78.2,"y":27},{"p":"a5","f":13,"x":80.5,"y":24.2},{"p":"a5","f":13,"x":80.9,"y":22},{"p":"a5","f":13,"x":79.9,"y":19},{"p":"a5","f":13,"x":76.5,"y":15.6},{"p":"a5","f":13,"x":72.2,"y":12.5},{"p":"a5","f":13,"x":70.7,"y":15.2},{"p":"a5","f":13,"x":70.5,"y":20.5},{"p":"a5","f":13,"x":71.6,"y":25},{"p":"a5","f":13,"x":73.3,"y":27},
{"p":"a6","f":13,"x":70.5,"y":4.9},{"p":"a6","f":13,"x":71.2,"y":4},{"p":"a6","f":13,"x":70.5,"y":3.3},{"p":"a6","f":13,"x":69.7,"y":4},
{"p":"a7","f":13,"x":70.5,"y":2.4},{"p":"a7","f":13,"x":73,"y":0.7},{"p":"a7","f":13,"x":74.5,"y":-1.5},{"p":"a7","f":13,"x":73.6,"y":-3},{"p":"a7","f":13,"x":71.9,"y":-4},{"p":"a7","f":13,"x":69.9,"y":-3.2},{"p":"a7","f":13,"x":69.3,"y":-1.2},{"p":"a7","f":13,"x":69.9,"y":1},
{"p":"k16","f":16,"x":79.3,"y":8.5},{"p":"k16","f":16,"x":83.9,"y":8.6},{"p":"k16","f":16,"x":85.4,"y":7.4},{"p":"k16","f":16,"x":86.2,"y":2.9},{"p":"k16","f":16,"x":85.6,"y":-1.9},{"p":"k16","f":16,"x":82.8,"y":-5.3},{"p":"k16","f":16,"x":81.1,"y":-7.7},{"p":"k16","f":16,"x":79.6,"y":-5.3},{"p":"k16","f":16,"x":77.9,"y":-1.5},{"p":"k16","f":16,"x":75.6,"y":2.2},{"p":"k16","f":16,"x":75.6,"y":5.9},{"p":"k16","f":16,"x":77,"y":7.6},
{"p":"k17","f":17,"x":80.5,"y":7.3},{"p":"k17","f":17,"x":83.1,"y":6.9},{"p":"k17","f":17,"x":84.5,"y":4.8},{"p":"k17","f":17,"x":85.1,"y":2.2},{"p":"k17","f":17,"x":84.5,"y":-0.05},{"p":"k17","f":17,"x":82.2,"y":-1.4},{"p":"k17","f":17,"x":78.5,"y":-0.05},{"p":"k17","f":17,"x":77,"y":2.2},{"p":"k17","f":17,"x":76.8,"y":4.8},{"p":"k17","f":17,"x":78.2,"y":6.5},
{"p":"k18","f":18,"x":80.9,"y":5.9},{"p":"k18","f":18,"x":82.5,"y":4.4},{"p":"k18","f":18,"x":83.2,"y":2.6},{"p":"k18","f":18,"x":82.8,"y":1.3},{"p":"k18","f":18,"x":81.1,"y":0.9},{"p":"k18","f":18,"x":79.3,"y":1.8},{"p":"k18","f":18,"x":78.6,"y":3.3},{"p":"k18","f":18,"x":79.1,"y":5.2},
{"p":"m14","f":13,"x":93.1,"y":9.2},{"p":"m14","f":13,"x":96.5,"y":8.7},{"p":"m14","f":13,"x":98.8,"y":5.9},{"p":"m14","f":13,"x":98.5,"y":2.2},{"p":"m14","f":13,"x":96.5,"y":-1.2},{"p":"m14","f":13,"x":93.1,"y":-3},{"p":"m14","f":13,"x":90.2,"y":-1.9},{"p":"m14","f":13,"x":88.8,"y":1.4},{"p":"m14","f":13,"x":88.8,"y":6.3},{"p":"m14","f":13,"x":90.5,"y":8.3},
{"p":"m13","f":12,"x":93.7,"y":7.1},{"p":"m13","f":12,"x":96,"y":6.5},{"p":"m13","f":12,"x":96.8,"y":5},{"p":"m13","f":12,"x":96,"y":1.8},{"p":"m13","f":12,"x":93.1,"y":-0.6},{"p":"m13","f":12,"x":90.8,"y":0.5},{"p":"m13","f":12,"x":90.1,"y":2.9},{"p":"m13","f":12,"x":90.5,"y":5.5},{"p":"m13","f":12,"x":91.4,"y":6.9},
{"p":"n16","f":16,"x":107.1,"y":10.3},{"p":"n16","f":16,"x":110,"y":9.3},{"p":"n16","f":16,"x":111.1,"y":6.7},{"p":"n16","f":16,"x":112,"y":4},{"p":"n16","f":16,"x":111.1,"y":-0.05},{"p":"n16","f":16,"x":109.4,"y":-6.4},{"p":"n16","f":16,"x":107.1,"y":-8.4},{"p":"n16","f":16,"x":105.1,"y":-7.5},{"p":"n16","f":16,"x":103.4,"y":-1.5},{"p":"n16","f":16,"x":102,"y":5.6},{"p":"n16","f":16,"x":103.1,"y":8.5},
{"p":"n17","f":17,"x":107.4,"y":8},{"p":"n17","f":17,"x":109.1,"y":7},{"p":"n17","f":17,"x":110,"y":4.4},{"p":"n17","f":17,"x":109.1,"y":2.9},{"p":"n17","f":17,"x":107.1,"y":2},{"p":"n17","f":17,"x":104.8,"y":2.9},{"p":"n17","f":17,"x":104,"y":4.4},{"p":"n17","f":17,"x":104.3,"y":6.7},{"p":"n17","f":17,"x":105.7,"y":7.9},
{"p":"q14","f":13,"x":122.3,"y":11.6},{"p":"q14","f":13,"x":125.2,"y":11.1},{"p":"q14","f":13,"x":127.5,"y":8.5},{"p":"q14","f":13,"x":129.2,"y":2.6},{"p":"q14","f":13,"x":128.3,"y":-0.4},{"p":"q14","f":13,"x":125.2,"y":-1.9},{"p":"q14","f":13,"x":121.2,"y":-2.4},{"p":"q14","f":13,"x":116.6,"y":-0.8},{"p":"q14","f":13,"x":114.3,"y":3.7},{"p":"q14","f":13,"x":114.6,"y":7.4},{"p":"q14","f":13,"x":117.1,"y":10},
{"p":"q13","f":12,"x":121.2,"y":9.1},{"p":"q13","f":12,"x":124.6,"y":8.5},{"p":"q13","f":12,"x":126.6,"y":4.4},{"p":"q13","f":12,"x":126,"y":1.4},{"p":"q13","f":12,"x":122.9,"y":-0.2},{"p":"q13","f":12,"x":118.9,"y":0.5},{"p":"q13","f":12,"x":116,"y":3.3},{"p":"q13","f":12,"x":116,"y":6.3},{"p":"q13","f":12,"x":118,"y":8.5},
{"p":"q12","f":11,"x":120.6,"y":7},{"p":"q12","f":11,"x":123.4,"y":6.5},{"p":"q12","f":11,"x":124.2,"y":4.4},{"p":"q12","f":11,"x":122.9,"y":2.4},{"p":"q12","f":11,"x":120.9,"y":1.6},{"p":"q12","f":11,"x":118.6,"y":2.6},{"p":"q12","f":11,"x":117.6,"y":4.8},{"p":"q12","f":11,"x":118.6,"y":6.7},
{"p":"r16","f":16,"x":144.1,"y":12.1},{"p":"r16","f":16,"x":147.5,"y":11.9},{"p":"r16","f":16,"x":149.8,"y":9.3},{"p":"r16","f":16,"x":151.2,"y":4.4},{"p":"r16","f":16,"x":150.9,"y":-1.5},{"p":"r16","f":16,"x":148.6,"y":-9},{"p":"r16","f":16,"x":144.6,"y":-13.7},{"p":"r16","f":16,"x":140.6,"y":-11.8},{"p":"r16","f":16,"x":138.6,"y":-8.3},{"p":"r16","f":16,"x":138.9,"y":-1.5},{"p":"r16","f":16,"x":137.2,"y":2.2},{"p":"r16","f":16,"x":134,"y":5.2},{"p":"r16","f":16,"x":133.8,"y":7},{"p":"r16","f":16,"x":137.2,"y":10.4},
{"p":"r17","f":17,"x":144.1,"y":9.3},{"p":"r17","f":17,"x":147.5,"y":8.5},{"p":"r17","f":17,"x":149.4,"y":5.9},{"p":"r17","f":17,"x":148.7,"y":2.9},{"p":"r17","f":17,"x":148.7,"y":-0.6},{"p":"r17","f":17,"x":147.2,"y":-0.7},{"p":"r17","f":17,"x":144.3,"y":2.6},{"p":"r17","f":17,"x":140.6,"y":3.9},{"p":"r17","f":17,"x":137.8,"y":5.5},{"p":"r17","f":17,"x":138,"y":7},{"p":"r17","f":17,"x":140.6,"y":8.7},
{"p":"s14","f":13,"x":160.2,"y":13.9},{"p":"s14","f":13,"x":162.5,"y":13.6},{"p":"s14","f":13,"x":164.5,"y":11.1},{"p":"s14","f":13,"x":167.2,"y":5.2},{"p":"s14","f":13,"x":164.8,"y":1.4},{"p":"s14","f":13,"x":160.2,"y":-2.7},{"p":"s14","f":13,"x":157.9,"y":-3.4},{"p":"s14","f":13,"x":155.6,"y":-2.3},{"p":"s14","f":13,"x":153.8,"y":0},{"p":"s14","f":13,"x":152.7,"y":4.4},{"p":"s14","f":13,"x":154.4,"y":10},{"p":"s14","f":13,"x":155.6,"y":12.3},{"p":"s14","f":13,"x":157.4,"y":13.4},
{"p":"s13","f":12,"x":160.2,"y":10.3},{"p":"s13","f":12,"x":162.5,"y":9.7},{"p":"s13","f":12,"x":164.5,"y":7},{"p":"s13","f":12,"x":165.6,"y":4.8},{"p":"s13","f":12,"x":164.2,"y":2.9},{"p":"s13","f":12,"x":162,"y":1.4},{"p":"s13","f":12,"x":157.9,"y":-0.4},{"p":"s13","f":12,"x":156.2,"y":0.1},{"p":"s13","f":12,"x":155.6,"y":4},{"p":"s13","f":12,"x":156.2,"y":8.2},{"p":"s13","f":12,"x":157.9,"y":9.8},
{"p":"s12","f":11,"x":160.5,"y":7.6},{"p":"s12","f":11,"x":162.2,"y":6.7},{"p":"s12","f":11,"x":163.4,"y":5.5},{"p":"s12","f":11,"x":161.4,"y":3.3},{"p":"s12","f":11,"x":159.4,"y":2.6},{"p":"s12","f":11,"x":157.9,"y":3.3},{"p":"s12","f":11,"x":157.4,"y":5.2},{"p":"s12","f":11,"x":158.2,"y":6.7},
{"p":"t16","f":16,"x":173.4,"y":17.5},{"p":"t16","f":16,"x":178.6,"y":18.3},{"p":"t16","f":16,"x":182,"y":17.3},{"p":"t16","f":16,"x":184.9,"y":14.1},{"p":"t16","f":16,"x":186.2,"y":9.7},{"p":"t16","f":16,"x":185.4,"y":5.2},{"p":"t16","f":16,"x":183.1,"y":0.7},{"p":"t16","f":16,"x":181.4,"y":-4.2},{"p":"t16","f":16,"x":180.9,"y":-9},{"p":"t16","f":16,"x":178.6,"y":-13.5},{"p":"t16","f":16,"x":175.7,"y":-16.8},{"p":"t16","f":16,"x":172.3,"y":-18.2},{"p":"t16","f":16,"x":168.8,"y":-16.8},{"p":"t16","f":16,"x":166.5,"y":-12.7},{"p":"t16","f":16,"x":166.8,"y":-5.3},{"p":"t16","f":16,"x":170.3,"y":1.9},{"p":"t16","f":16,"x":169.4,"y":9.7},{"p":"t16","f":16,"x":169.7,"y":13.4},
{"p":"t17","f":17,"x":179.1,"y":15.9},{"p":"t17","f":17,"x":182,"y":14.5},{"p":"t17","f":17,"x":184.9,"y":11.5},{"p":"t17","f":17,"x":184.9,"y":6.7},{"p":"t17","f":17,"x":182.6,"y":1.8},{"p":"t17","f":17,"x":179.1,"y":0.3},{"p":"t17","f":17,"x":176.8,"y":-0.4},{"p":"t17","f":17,"x":173.4,"y":2.6},{"p":"t17","f":17,"x":170.8,"y":6.3},{"p":"t17","f":17,"x":170.8,"y":10.4},{"p":"t17","f":17,"x":173.4,"y":13.8},{"p":"t17","f":17,"x":176.3,"y":15.4},
{"p":"t18","f":18,"x":178.6,"y":13.9},{"p":"t18","f":18,"x":181.4,"y":13},{"p":"t18","f":18,"x":184,"y":10.4},{"p":"t18","f":18,"x":184.6,"y":7.4},{"p":"t18","f":18,"x":183.1,"y":4.4},{"p":"t18","f":18,"x":179.7,"y":2.7},{"p":"t18","f":18,"x":176.3,"y":3.3},{"p":"t18","f":18,"x":173.4,"y":5.5},{"p":"t18","f":18,"x":172.5,"y":8.5},{"p":"t18","f":18,"x":174,"y":11.9},
{"p":"t19","f":19,"x":178,"y":11.9},{"p":"t19","f":19,"x":180.8,"y":11},{"p":"t19","f":19,"x":182.9,"y":9.3},{"p":"t19","f":19,"x":182.9,"y":6.3},{"p":"t19","f":19,"x":181.4,"y":4.4},{"p":"t19","f":19,"x":178.6,"y":4},{"p":"t19","f":19,"x":175.7,"y":5.2},{"p":"t19","f":19,"x":174.3,"y":7.4},{"p":"t19","f":19,"x":174.8,"y":10.4},
{"p":"t20","f":20,"x":179.1,"y":9.1},{"p":"t20","f":20,"x":181.1,"y":8},{"p":"t20","f":20,"x":181.4,"y":6.3},{"p":"t20","f":20,"x":179.4,"y":5},{"p":"t20","f":20,"x":177.4,"y":5.9},{"p":"t20","f":20,"x":177.1,"y":7.4},
{"p":"u14","f":13,"x":186.3,"y":30},{"p":"u14","f":13,"x":186.3,"y":27},{"p":"u14","f":13,"x":187.4,"y":24.6},{"p":"u14","f":13,"x":188.3,"y":20.8},{"p":"u14","f":13,"x":188.9,"y":15.2},{"p":"u14","f":13,"x":188.3,"y":9.7},{"p":"u14","f":13,"x":186.3,"y":1.4},{"p":"u14","f":13,"x":186.6,"y":-1.2},{"p":"u14","f":13,"x":190,"y":-6.4},{"p":"u14","f":13,"x":194.6,"y":-8.6},{"p":"u14","f":13,"x":199.7,"y":-9.4},{"p":"u14","f":13,"x":206,"y":-7.9},{"p":"u14","f":13,"x":210.6,"y":-3.8},{"p":"u14","f":13,"x":214.1,"y":-1.2},{"p":"u14","f":13,"x":217.5,"y":0.7},{"p":"u14","f":13,"x":222.7,"y":4},{"p":"u14","f":13,"x":223,"y":7.4},{"p":"u14","f":13,"x":220.4,"y":16.7},{"p":"u14","f":13,"x":219.8,"y":22.3},{"p":"u14","f":13,"x":222.7,"y":26.8},{"p":"u14","f":13,"x":224.4,"y":30},
{"p":"u13","f":12,"x":198.9,"y":30},{"p":"u13","f":12,"x":198.9,"y":27},{"p":"u13","f":12,"x":194.6,"y":23.8},{"p":"u13","f":12,"x":191.7,"y":16},{"p":"u13","f":12,"x":189.2,"y":6.3},{"p":"u13","f":12,"x":187.7,"y":1.4},{"p":"u13","f":12,"x":189.4,"y":-1.5},{"p":"u13","f":12,"x":193.4,"y":-4.5},{"p":"u13","f":12,"x":198.6,"y":-5.5},{"p":"u13","f":12,"x":205.5,"y":-4.5},{"p":"u13","f":12,"x":210.3,"y":-1},{"p":"u13","f":12,"x":213.5,"y":0.7},{"p":"u13","f":12,"x":216.4,"y":2.2},{"p":"u13","f":12,"x":220.7,"y":5.2},{"p":"u13","f":12,"x":220.9,"y":7.4},{"p":"u13","f":12,"x":218.1,"y":17.1},{"p":"u13","f":12,"x":215.2,"y":23.8},{"p":"u13","f":12,"x":216.7,"y":27},{"p":"u13","f":12,"x":217.5,"y":30},
{"p":"u12","f":11,"x":204.9,"y":23.1},{"p":"u12","f":11,"x":207.8,"y":22.1},{"p":"u12","f":11,"x":211.8,"y":19},{"p":"u12","f":11,"x":215.2,"y":14.5},{"p":"u12","f":11,"x":218.1,"y":5.9},{"p":"u12","f":11,"x":216.9,"y":3.7},{"p":"u12","f":11,"x":211.8,"y":1.1},{"p":"u12","f":11,"x":205.5,"y":-1.5},{"p":"u12","f":11,"x":199.2,"y":-2.7},{"p":"u12","f":11,"x":193.5,"y":-1.2},{"p":"u12","f":11,"x":190,"y":2.2},{"p":"u12","f":11,"x":190.9,"y":7.4},{"p":"u12","f":11,"x":192.9,"y":13.8},{"p":"u12","f":11,"x":195.7,"y":18.6},{"p":"u12","f":11,"x":200.9,"y":22},
{"p":"u11","f":10,"x":203.2,"y":17.6},{"p":"u11","f":10,"x":206.6,"y":17.1},{"p":"u11","f":10,"x":210.6,"y":14.9},{"p":"u11","f":10,"x":214.1,"y":10.8},{"p":"u11","f":10,"x":215.1,"y":6.3},{"p":"u11","f":10,"x":213.5,"y":3.7},{"p":"u11","f":10,"x":209.5,"y":1.8},{"p":"u11","f":10,"x":200.3,"y":-0.4},{"p":"u11","f":10,"x":195.2,"y":0.5},{"p":"u11","f":10,"x":191.2,"y":3.7},{"p":"u11","f":10,"x":192.6,"y":8.5},{"p":"u11","f":10,"x":195.7,"y":13.8},{"p":"u11","f":10,"x":199.2,"y":16.7},
{"p":"u10","f":9,"x":203.2,"y":13.7},{"p":"u10","f":9,"x":206.6,"y":12.6},{"p":"u10","f":9,"x":210.1,"y":9.7},{"p":"u10","f":9,"x":211.8,"y":5.9},{"p":"u10","f":9,"x":210.1,"y":3.3},{"p":"u10","f":9,"x":204.9,"y":2.2},{"p":"u10","f":9,"x":198,"y":1.6},{"p":"u10","f":9,"x":194.6,"y":2.4},{"p":"u10","f":9,"x":192.6,"y":4.1},{"p":"u10","f":9,"x":193.4,"y":7},{"p":"u10","f":9,"x":196.3,"y":10.8},{"p":"u10","f":9,"x":199.8,"y":13},
{"p":"u9","f":8,"x":201.5,"y":9.8},{"p":"u9","f":8,"x":204.3,"y":8.9},{"p":"u9","f":8,"x":206.3,"y":7},{"p":"u9","f":8,"x":205.5,"y":4.6},{"p":"u9","f":8,"x":200.3,"y":3.9},{"p":"u9","f":8,"x":197.5,"y":3.9},{"p":"u9","f":8,"x":195.5,"y":5.5},{"p":"u9","f":8,"x":196,"y":7.4},{"p":"u9","f":8,"x":198.6,"y":9.3},
{"p":"v16","f":16,"x":234.1,"y":24.4},{"p":"v16","f":16,"x":237.6,"y":23.6},{"p":"v16","f":16,"x":241,"y":21.8},{"p":"v16","f":16,"x":242.8,"y":20.1},{"p":"v16","f":16,"x":248,"y":15},{"p":"v16","f":16,"x":248,"y":-2},{"p":"v16","f":16,"x":242.8,"y":-2.2},{"p":"v16","f":16,"x":238.7,"y":-3},{"p":"v16","f":16,"x":235.3,"y":-5.3},{"p":"v16","f":16,"x":235.3,"y":-10.5},{"p":"v16","f":16,"x":233,"y":-13.5},{"p":"v16","f":16,"x":229.5,"y":-14.6},{"p":"v16","f":16,"x":225.5,"y":-12.7},{"p":"v16","f":16,"x":223,"y":-7.5},{"p":"v16","f":16,"x":223.8,"y":-5.3},{"p":"v16","f":16,"x":227.8,"y":-2.3},{"p":"v16","f":16,"x":233,"y":-2.5},{"p":"v16","f":16,"x":233.8,"y":-1.2},{"p":"v16","f":16,"x":231.8,"y":1.1},{"p":"v16","f":16,"x":229.5,"y":3},{"p":"v16","f":16,"x":227.2,"y":9.7},{"p":"v16","f":16,"x":226.7,"y":19},{"p":"v16","f":16,"x":229,"y":23.1},{"p":"v16","f":16,"x":231.3,"y":24.2},
{"p":"v17","f":17,"x":234.1,"y":19},{"p":"v17","f":17,"x":236.4,"y":18.2},{"p":"v17","f":17,"x":240.4,"y":15.2},{"p":"v17","f":17,"x":242.8,"y":12.3},{"p":"v17","f":17,"x":248,"y":10},{"p":"v17","f":17,"x":248,"y":5},{"p":"v17","f":17,"x":242.8,"y":4.4},{"p":"v17","f":17,"x":239.8,"y":3.5},{"p":"v17","f":17,"x":235.8,"y":4.4},{"p":"v17","f":17,"x":232.4,"y":7},{"p":"v17","f":17,"x":231,"y":10.8},{"p":"v17","f":17,"x":230.7,"y":14.1},{"p":"v17","f":17,"x":231.8,"y":17.9}
]},
"vconcat":[
{"data":{"name":"one"},"width":1,"height":19,"mark":{"type":"point","opacity":0},"encoding":{}},
{"spacing":0,"bounds":"flush","align":"none","hconcat":[
{"data":{"name":"one"},"width":83,"height":1,"mark":{"type":"point","opacity":0},"encoding":{}},
{"width":2976,"height":172,"view":{"stroke":"#444444","strokeWidth":3},"layer":[
{"data":{"name":"bands"},"mark":{"type":"rect","stroke":"#222222","strokeWidth":1.5},"encoding":{"x":{"field":"from","type":"quantitative","axis":null,"scale":{"domain":[-1.751,24.83],"nice":false,"zero":false}},"x2":{"field":"to"},"y":{"datum":0,"type":"quantitative","axis":null,"scale":{"domain":[3.59,-0.318],"nice":false,"zero":false}},"y2":{"datum":1},"fill":{"field":"band","type":"ordinal","legend":null,"scale":{"domain":[0,1,2,3,4,5,6,7,8,9,10,11,12,13,14,15,16,17,18,19,20,21,22,23,24]}}}},
{"data":{"name":"levels"},"mark":{"type":"text","font":"Liberation Sans","fontSize":31,"color":"#111111"},"encoding":{"x":{"field":"level","type":"quantitative","axis":null},"y":{"datum":2,"type":"quantitative","axis":null},"text":{"field":"level"}}},
{"data":{"name":"levels"},"mark":{"type":"text","font":"Liberation Sans","fontSize":31,"color":"#111111"},"encoding":{"x":{"field":"level","type":"quantitative","axis":null},"y":{"datum":3.05,"type":"quantitative","axis":null},"text":{"field":"pressure"}}},
{"data":{"name":"one"},"mark":{"type":"text","font":"Liberation Sans","fontSize":45,"color":"#111111","align":"right"},"encoding":{"x":{"datum":0.38,"type":"quantitative","axis":null},"y":{"datum":1.92,"type":"quantitative","axis":null},"text":{"value":"Level"}}},
{"data":{"name":"one"},"mark":{"type":"text","font":"Liberation Sans","fontSize":45,"color":"#111111","align":"right"},"encoding":{"x":{"datum":0.38,"type":"quantitative","axis":null},"y":{"datum":2.97,"type":"quantitative","axis":null},"text":{"value":"Pressure:"}}}
]}]},
{"data":{"name":"one"},"width":1,"height":206,"mark":{"type":"point","opacity":0},"encoding":{}},
{"spacing":0,"bounds":"flush","align":"none","hconcat":[
{"data":{"name":"one"},"width":337,"height":1,"mark":{"type":"point","opacity":0},"encoding":{}},
{"width":2502,"height":556,"view":{"fill":"#e6ff14"},
"encoding":{"x":{"field":"x","type":"quantitative","scale":{"domain":[0,242.7],"nice":false,"zero":false},"axis":{"title":"X","values":[0,10,20,30,40,50,60,70,80,90,100,110,120,130,140,150,160,170,180,190,200,210,220,230,240],"labelExpr":"datum.value % 50 === 0 ? '' + datum.value : ''","labelOverlap":false,"labelFlush":false,"labelFont":"Liberation Sans","labelFontSize":57,"labelColor":"#111111","labelPadding":58,"tickSize":-29,"tickWidth":2.5,"tickColor":"#000000","domainWidth":6,"domainColor":"#000000","grid":false,"zindex":1,"titleFont":"Liberation Serif","titleFontStyle":"italic","titleFontWeight":"normal","titleFontSize":52,"titleColor":"#222222","titleY":142,"titleBaseline":"middle"}},
"y":{"field":"y","type":"quantitative","scale":{"domain":[-26.8,27.2],"nice":false,"zero":false},"axis":{"title":"Y","values":[-25,-20,-15,-10,-5,0,5,10,15,20,25],"labelExpr":"datum.value % 20 === 0 ? '' + datum.value : ''","labelOverlap":false,"labelFlush":false,"labelFont":"Liberation Sans","labelFontSize":57,"labelColor":"#111111","labelPadding":63,"tickSize":-29,"tickWidth":{"condition":{"test":"datum.value % 20 === 0","value":10},"value":2.5},"tickColor":"#000000","domainWidth":6,"domainColor":"#000000","grid":false,"zindex":1,"titleFont":"Liberation Serif","titleFontStyle":"italic","titleFontWeight":"normal","titleFontSize":52,"titleColor":"#222222","titleX":-154,"titleY":268,"titleBaseline":"middle"}}},
"layer":[
{"data":{"name":"bPoly"},"mark":{"type":"line","interpolate":"cardinal-closed","tension":0.2,"stroke":"#2b2b2b","strokeWidth":2.6,"clip":true},"encoding":{"fill":{"field":"f","type":"ordinal","legend":null,"scale":{"domain":[0,1,2,3,4,5,6,7,8,9,10,11,12,13,14,15,16,17,18,19,20,21,22,23,24]}},"detail":{"field":"p"},"order":{"value":null}}},
{"data":{"name":"bLabels"},"transform":[{"filter":"length(datum.t) > 1"}],"mark":{"type":"point","shape":"M-1,-0.65H1V0.65H-1Z","filled":true,"fill":"white","size":1936,"opacity":1}},
{"data":{"name":"bLabels"},"transform":[{"filter":"length(datum.t) === 1"}],"mark":{"type":"point","shape":"M-0.5,-0.65H0.5V0.65H-0.5Z","filled":true,"fill":"white","size":1936,"opacity":1}},
{"data":{"name":"bLabels"},"mark":{"type":"text","font":"Liberation Sans","fontSize":32,"color":"#111111"},"encoding":{"text":{"field":"t"}}},
{"data":{"name":"bTag"},"mark":{"type":"text","font":"Liberation Serif","fontSize":60,"color":"#444444"},"encoding":{"text":{"field":"t"}}}
]}]},
{"data":{"name":"one"},"width":1,"height":877,"mark":{"type":"point","opacity":0},"encoding":{}},
{"spacing":0,"bounds":"flush","align":"none","hconcat":[
{"data":{"name":"one"},"width":86,"height":1,"mark":{"type":"point","opacity":0},"encoding":{}},
{"width":3046,"height":177,"view":{"stroke":"#444444","strokeWidth":3},"layer":[
{"data":{"name":"bands"},"mark":{"type":"rect","stroke":"#222222","strokeWidth":1.5},"encoding":{"x":{"field":"from","type":"quantitative","axis":null,"scale":{"domain":[-1.734,24.79],"nice":false,"zero":false}},"x2":{"field":"to"},"y":{"datum":0,"type":"quantitative","axis":null,"scale":{"domain":[3.578,-0.356],"nice":false,"zero":false}},"y2":{"datum":1},"fill":{"field":"band","type":"ordinal","legend":null,"scale":{"domain":[0,1,2,3,4,5,6,7,8,9,10,11,12,13,14,15,16,17,18,19,20,21,22,23,24]}}}},
{"data":{"name":"levels"},"mark":{"type":"text","font":"Liberation Sans","fontSize":31,"color":"#111111"},"encoding":{"x":{"field":"level","type":"quantitative","axis":null},"y":{"datum":2,"type":"quantitative","axis":null},"text":{"field":"level"}}},
{"data":{"name":"levels"},"mark":{"type":"text","font":"Liberation Sans","fontSize":31,"color":"#111111"},"encoding":{"x":{"field":"level","type":"quantitative","axis":null},"y":{"datum":3,"type":"quantitative","axis":null},"text":{"field":"pressure"}}},
{"data":{"name":"one"},"mark":{"type":"text","font":"Liberation Sans","fontSize":45,"color":"#111111","align":"right"},"encoding":{"x":{"datum":0.373,"type":"quantitative","axis":null},"y":{"datum":1.87,"type":"quantitative","axis":null},"text":{"value":"Level"}}},
{"data":{"name":"one"},"mark":{"type":"text","font":"Liberation Sans","fontSize":45,"color":"#111111","align":"right"},"encoding":{"x":{"datum":0.373,"type":"quantitative","axis":null},"y":{"datum":2.9,"type":"quantitative","axis":null},"text":{"value":"Pressure:"}}}
]}]},
{"data":{"name":"one"},"width":1,"height":212,"mark":{"type":"point","opacity":0},"encoding":{}},
{"spacing":0,"bounds":"flush","align":"none","hconcat":[
{"data":{"name":"one"},"width":346,"height":1,"mark":{"type":"point","opacity":0},"encoding":{}},
{"width":2565,"height":570,"view":{"fill":"#e6ff14"},
"encoding":{"x":{"field":"x","type":"quantitative","scale":{"domain":[0,242.4],"nice":false,"zero":false},"axis":{"title":"X","values":[0,10,20,30,40,50,60,70,80,90,100,110,120,130,140,150,160,170,180,190,200,210,220,230,240],"labelExpr":"datum.value % 50 === 0 ? '' + datum.value : ''","labelOverlap":false,"labelFlush":false,"labelFont":"Liberation Sans","labelFontSize":57,"labelColor":"#111111","labelPadding":58,"tickSize":-29,"tickWidth":2.5,"tickColor":"#000000","domainWidth":6,"domainColor":"#000000","grid":false,"zindex":1,"titleFont":"Liberation Serif","titleFontStyle":"italic","titleFontWeight":"normal","titleFontSize":52,"titleColor":"#222222","titleY":146,"titleBaseline":"middle"}},
"y":{"field":"y","type":"quantitative","scale":{"domain":[-26.8,27],"nice":false,"zero":false},"axis":{"title":"Y","values":[-25,-20,-15,-10,-5,0,5,10,15,20,25],"labelExpr":"datum.value % 20 === 0 ? '' + datum.value : ''","labelOverlap":false,"labelFlush":false,"labelFont":"Liberation Sans","labelFontSize":57,"labelColor":"#111111","labelPadding":63,"tickSize":-29,"tickWidth":{"condition":{"test":"datum.value % 20 === 0","value":10},"value":2.5},"tickColor":"#000000","domainWidth":6,"domainColor":"#000000","grid":false,"zindex":1,"titleFont":"Liberation Serif","titleFontStyle":"italic","titleFontWeight":"normal","titleFontSize":52,"titleColor":"#222222","titleX":-159,"titleY":277,"titleBaseline":"middle"}}},
"layer":[
{"data":{"name":"cPoly"},"mark":{"type":"line","interpolate":"cardinal-closed","tension":0.2,"stroke":"#2b2b2b","strokeWidth":2.6,"clip":true},"encoding":{"fill":{"field":"f","type":"ordinal","legend":null,"scale":{"domain":[0,1,2,3,4,5,6,7,8,9,10,11,12,13,14,15,16,17,18,19,20,21,22,23,24]}},"detail":{"field":"p"},"order":{"value":null}}},
{"data":{"name":"cLabels"},"transform":[{"filter":"length(datum.t) > 1"}],"mark":{"type":"point","shape":"M-1,-0.65H1V0.65H-1Z","filled":true,"fill":"white","size":1936,"opacity":1}},
{"data":{"name":"cLabels"},"transform":[{"filter":"length(datum.t) === 1"}],"mark":{"type":"point","shape":"M-0.5,-0.65H0.5V0.65H-0.5Z","filled":true,"fill":"white","size":1936,"opacity":1}},
{"data":{"name":"cLabels"},"mark":{"type":"text","font":"Liberation Sans","fontSize":32,"color":"#111111"},"encoding":{"text":{"field":"t"}}},
{"data":{"name":"cTag"},"mark":{"type":"text","font":"Liberation Serif","fontSize":60,"color":"#444444"},"encoding":{"text":{"field":"t"}}}
]}]}
]}
